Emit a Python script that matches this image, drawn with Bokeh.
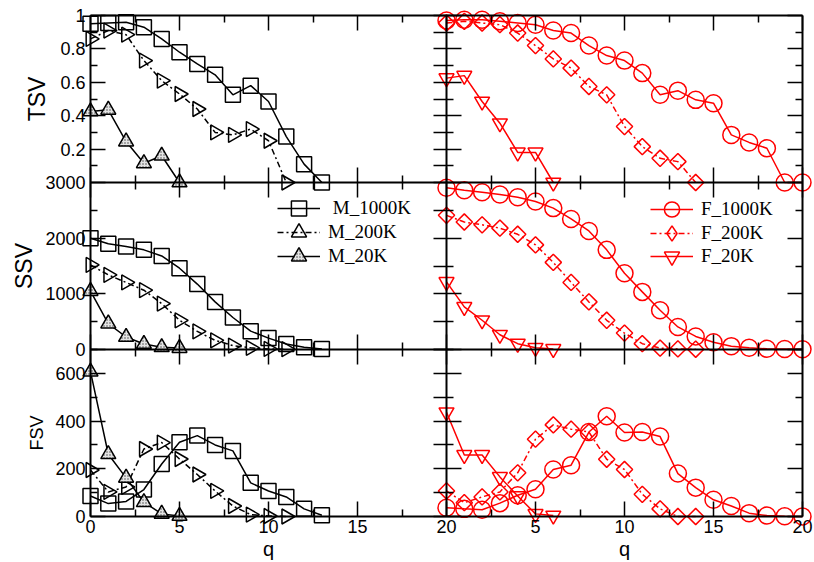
import math
from bokeh.plotting import figure
from bokeh.models import (Range1d, LinearAxis, FixedTicker, Legend, LegendItem, Label)
from bokeh.embed import file_html
from bokeh.resources import INLINE

# ---------------- data ----------------
q_m1000 = [0, 1, 2, 3, 4, 5, 6, 7, 8, 9, 10, 11, 12, 13]
q_m200 = [0, 1, 2, 3, 4, 5, 6, 7, 8, 9, 10, 11]
q_m20 = [0, 1, 2, 3, 4, 5]
q_f1000 = [0, 1, 2, 3, 4, 5, 6, 7, 8, 9, 10, 11, 12, 13, 14, 15, 16, 17, 18, 19, 20]
q_f200 = [0, 1, 2, 3, 4, 5, 6, 7, 8, 9, 10, 11, 12, 13, 14]
q_f20 = [0, 1, 2, 3, 4, 5, 6]

tsv_m1000 = [0.95, 0.955, 0.96, 0.93, 0.86, 0.78, 0.71, 0.645, 0.525, 0.58, 0.485, 0.275, 0.11, 0.0]
tsv_m200 = [0.86, 0.91, 0.885, 0.73, 0.61, 0.53, 0.44, 0.30, 0.285, 0.32, 0.25, 0.0]
tsv_m20 = [0.425, 0.435, 0.245, 0.115, 0.16, 0.0]
tsv_f1000 = [0.97, 0.975, 0.975, 0.965, 0.955, 0.945, 0.91, 0.895, 0.82, 0.76, 0.73,
             0.655, 0.525, 0.55, 0.495, 0.475, 0.285, 0.24, 0.205, 0.0, 0.0]
tsv_f200 = [0.955, 0.965, 0.955, 0.945, 0.895, 0.82, 0.74, 0.685, 0.575, 0.525, 0.335,
            0.215, 0.145, 0.125, 0.0]
tsv_f20 = [0.625, 0.64, 0.485, 0.355, 0.18, 0.18, 0.0]

ssv_m1000 = [2000, 1900, 1850, 1790, 1680, 1460, 1175, 855, 575, 330, 205, 100, 40, 10]
ssv_m200 = [1520, 1340, 1205, 1065, 825, 525, 325, 165, 70, 30, 10, 5]
ssv_m20 = [1050, 465, 225, 100, 40, 25]
ssv_f1000 = [2905, 2860, 2825, 2785, 2735, 2660, 2540, 2345, 2130, 1790, 1370, 1035,
             705, 405, 235, 130, 60, 30, 12, 10, 5]
ssv_f200 = [2410, 2290, 2240, 2180, 2070, 1880, 1565, 1205, 855, 525, 295, 105, 25, 10, 5]
ssv_f20 = [1215, 765, 525, 265, 105, 30, 10]

fsv_m1000 = [86, 54, 63, 113, 220, 311, 339, 300, 275, 141, 107, 82, 32, 5]
fsv_m200 = [195, 103, 124, 283, 310, 241, 176, 107, 44, 8, 2, 0]
fsv_m20 = [607, 261, 162, 60, 11, 2]
fsv_f1000 = [37, 32, 28, 56, 89, 114, 197, 215, 354, 420, 352, 354, 335, 180, 121, 70,
             44, 14, 4, 1, 0]
fsv_f200 = [107, 58, 82, 103, 183, 324, 384, 366, 354, 240, 197, 93, 32, 0, 0]
fsv_f20 = [437, 258, 258, 166, 86, 11, 4]

X_MAX = 20
X_MAJOR = [0, 5, 10, 15, 20]
X_MINOR = [2.5, 7.5, 12.5, 17.5]
X_LABELS = ["0", "5", "10", "15", "20"]

TSV_MAX = 1
TSV_MAJOR = [0, 0.2, 0.4, 0.6, 0.8, 1]
TSV_MINOR = [0.1, 0.3, 0.5, 0.7, 0.9]
TSV_LABELS = ["", "0.2", "0.4", "0.6", "0.8", "1"]

SSV_MAX = 3000
SSV_MAJOR = [0, 1000, 2000, 3000]
SSV_MINOR = [500, 1500, 2500]
SSV_LABELS = ["0", "1000", "2000", "3000"]

FSV_MAX = 700
FSV_MAJOR = [0, 200, 400, 600]
FSV_MINOR = [100, 300, 500, 700]
FSV_LABELS = ["0", "200", "400", "600"]

SANS = "Liberation Sans"
SERIF = "Liberation Serif"
RED = "#ff0000"

# rows from the bottom: name, ymax, majors, minors, labels, title size, title offset
ROWS = [
    ("FSV", FSV_MAX, FSV_MAJOR, FSV_MINOR, FSV_LABELS, "18px", -54),
    ("SSV", SSV_MAX, SSV_MAJOR, SSV_MINOR, SSV_LABELS, "23px", -67),
    ("TSV", TSV_MAX, TSV_MAJOR, TSV_MINOR, TSV_LABELS, "23px", -54),
]

# ---------------- layout (canvas pixels) ----------------
W, H = 814, 562
PX_L, PX_R = 90, 802      # panel grid left / right edge
PX_T, PX_B = 15, 516      # panel grid top / bottom edge
ux = (PX_R - PX_L) / 2.0
uy = (PX_B - PX_T) / 3.0

p = figure(width=W, height=H,
           x_range=Range1d(-PX_L / ux, 2 + (W - PX_R) / ux),
           y_range=Range1d(-(H - PX_B) / uy, 3 + PX_T / uy),
           output_backend="svg", toolbar_location=None,
           x_axis_location=None, y_axis_location=None, min_border=0,
           min_border_left=0, min_border_right=0, min_border_top=0, min_border_bottom=0)
p.outline_line_color = None
p.background_fill_color = "white"
p.border_fill_color = "white"
p.xgrid.visible = False
p.ygrid.visible = False


def xt(c, v):
    return c + v / X_MAX


def yt(r, v, ymax):
    return r + v / ymax


x_major, x_minor, x_lab = [], [], {}
for c in (0, 1):
    for t, lab in zip(X_MAJOR, X_LABELS):
        v = xt(c, t)
        if v not in x_lab:
            x_major.append(v)
            x_lab[v] = lab
    for t in X_MINOR:
        x_minor.append(xt(c, t))

y_major, y_minor, y_lab = [], [], {}
for r, (name, ymax, majors, minors, labels, _, _) in enumerate(ROWS):
    for t, lab in zip(majors, labels):
        v = yt(r, t, ymax)
        if v in y_lab:
            continue
        y_major.append(v)
        y_lab[v] = lab
    for t in minors:
        y_minor.append(yt(r, t, ymax))


def make_axis(major, minor, loc, bounds, labels=None, tin=15, tout=0, min_in=7, min_out=0,
              font="18px", standoff=4):
    ax = LinearAxis(ticker=FixedTicker(ticks=major, minor_ticks=minor),
                    fixed_location=loc, bounds=bounds)
    ax.major_tick_in = tin
    ax.major_tick_out = tout
    ax.minor_tick_in = min_in
    ax.minor_tick_out = min_out
    ax.axis_line_width = 2
    ax.axis_line_color = "black"
    ax.major_tick_line_width = 1.5
    ax.minor_tick_line_width = 1.5
    ax.major_tick_line_color = "black"
    ax.minor_tick_line_color = "black"
    if labels is None:
        ax.major_label_overrides = {v: "" for v in major}
        ax.major_label_text_font_size = "0px"
        ax.major_label_standoff = 0
    else:
        ax.major_label_overrides = labels
        ax.major_label_text_font = SANS
        ax.major_label_text_font_size = font
        ax.major_label_text_color = "black"
        ax.major_label_standoff = standoff
    return ax


# outer frame axes
p.add_layout(make_axis(x_major, x_minor, 0, (0, 2), x_lab, font="18px", standoff=3), "below")
p.add_layout(make_axis(x_major, x_minor, 3, (0, 2)), "above")
p.add_layout(make_axis(y_major, y_minor, 0, (0, 3), y_lab, font="18px", standoff=5), "left")
p.add_layout(make_axis(y_major, y_minor, 2, (0, 3)), "right")
# interior panel borders (ticks on both sides)
for b in (1, 2):
    p.add_layout(make_axis(x_major, x_minor, b, (0, 2), tout=15, min_out=7), "below")
p.add_layout(make_axis(y_major, y_minor, 1, (0, 3), tout=13, min_out=13), "left")

# axis titles
for r, (name, ymax, majors, minors, labels, fsize, xoff) in enumerate(ROWS):
    p.add_layout(Label(x=0, y=r + 0.5, x_offset=xoff, text=name, angle=90, angle_units="deg",
                       text_align="center", text_baseline="middle", text_font=SANS,
                       text_font_size=fsize, text_color="black"))
for c in (0, 1):
    p.add_layout(Label(x=c + 0.5, y=0, y_offset=-32, text="q", text_align="center",
                       text_baseline="alphabetic", text_font=SANS, text_font_size="20px",
                       text_color="black"))

# ---------------- series ----------------
STYLES = {
    "M_1000K": dict(color="black", marker="square", size=15, angle=0, dash="solid", fill=None, key=None),
    "M_200K": dict(color="black", marker="triangle", size=15, angle=-math.pi / 2, dash="6 3 2 3", fill=None, key=None),
    "M_20K": dict(color="black", marker="triangle", size=15, angle=0, dash="solid", fill="#e4e4e4", key=None),
    "F_1000K": dict(color=RED, marker="circle", size=17, angle=0, dash="solid", fill=None, key=None),
    "F_200K": dict(color=RED, marker="square", size=11.5, angle=math.pi / 4, dash="6 3 2 3", fill=None, key="diamond"),
    "F_20K": dict(color=RED, marker="inverted_triangle", size=15, angle=0, dash="solid", fill=None, key=None),
}

SERIES = {
    (0, "TSV"): [("M_1000K", q_m1000, tsv_m1000), ("M_200K", q_m200, tsv_m200), ("M_20K", q_m20, tsv_m20)],
    (1, "TSV"): [("F_1000K", q_f1000, tsv_f1000), ("F_200K", q_f200, tsv_f200), ("F_20K", q_f20, tsv_f20)],
    (0, "SSV"): [("M_1000K", q_m1000, ssv_m1000), ("M_200K", q_m200, ssv_m200), ("M_20K", q_m20, ssv_m20)],
    (1, "SSV"): [("F_1000K", q_f1000, ssv_f1000), ("F_200K", q_f200, ssv_f200), ("F_20K", q_f20, ssv_f20)],
    (0, "FSV"): [("M_1000K", q_m1000, fsv_m1000), ("M_200K", q_m200, fsv_m200), ("M_20K", q_m20, fsv_m20)],
    (1, "FSV"): [("F_1000K", q_f1000, fsv_f1000), ("F_200K", q_f200, fsv_f200), ("F_20K", q_f20, fsv_f20)],
}


def marker_kw(st, marker, angle):
    kw = dict(marker=marker, size=st["size"], angle=angle, line_color=st["color"], line_width=1.5)
    if st["fill"]:
        kw.update(fill_color=st["fill"], fill_alpha=1, hatch_pattern="dot",
                  hatch_color="#444444", hatch_scale=3, hatch_weight=1)
    else:
        kw.update(fill_alpha=0)
    return kw


NAN = float("nan")
legend_renderers = {0: [], 1: []}
for r, (name, ymax, *_rest) in enumerate(ROWS):
    for c in (0, 1):
        sub = p.subplot(x_source=Range1d(0, X_MAX), y_source=Range1d(0, ymax),
                        x_target=Range1d(c, c + 1), y_target=Range1d(r, r + 1))
        for label, xs, ys in SERIES[(c, name)]:
            st = STYLES[label]
            ln = sub.line(xs, ys, line_color=st["color"], line_width=1.5, line_dash=st["dash"])
            sc = sub.scatter(xs, ys, **marker_kw(st, st["marker"], st["angle"]))
            if name == "SSV":
                key = sc
                if st["key"]:
                    # legend-only key (no visible point in the plot)
                    key = sub.scatter([NAN], [NAN], **marker_kw(st, st["key"], 0))
                legend_renderers[c].append((label, ln, key))

# one legend per entry so that the rows sit 24px apart with full-size keys
LEG_X = {0: 277, 1: 650}
LEG_Y = {0: [208, 232, 256], 1: [209, 233, 256]}
KEY_H = 38
for c in (0, 1):
    for i, (label, ln, key) in enumerate(legend_renderers[c]):
        txt = (" " + label) if i == 0 and c == 0 else label
        lg = Legend(items=[LegendItem(label=txt, renderers=[ln, key])],
                    location=(LEG_X[c], H - (LEG_Y[c][i] + KEY_H // 2)),
                    orientation="vertical", border_line_color=None, background_fill_alpha=0,
                    padding=0, margin=0, spacing=0, glyph_width=43, glyph_height=KEY_H,
                    label_height=20, label_standoff=8, label_text_font=SERIF,
                    label_text_font_size="19px", label_text_color="black")
        p.add_layout(lg)

open("out.html", "w").write(file_html(p, INLINE))
